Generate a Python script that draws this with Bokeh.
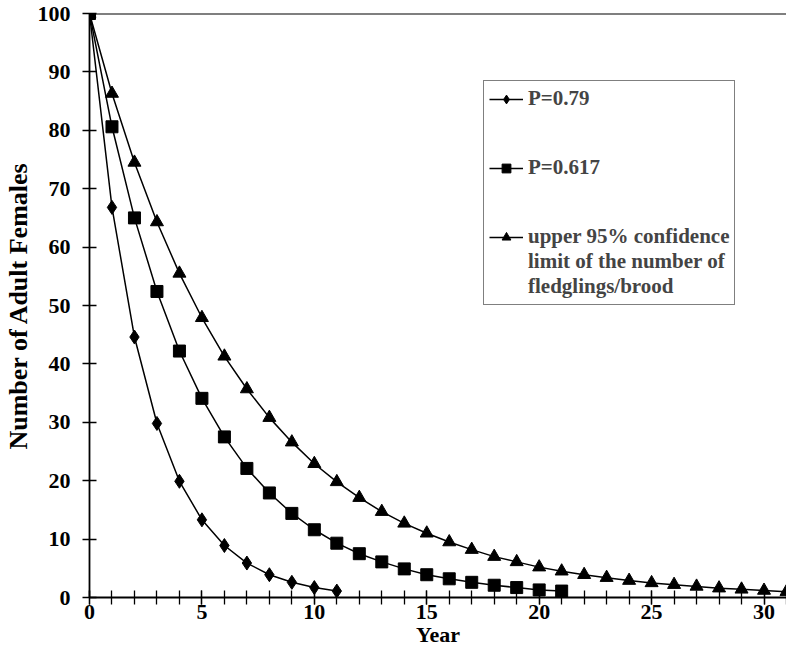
from bokeh.plotting import figure
from bokeh.models import Legend, LegendItem, SingleIntervalTicker, Span, Range1d
from bokeh.embed import file_html
from bokeh.resources import INLINE

years_a = list(range(0, 12))
vals_a = [100, 66.8, 44.6, 29.8, 19.9, 13.3, 8.9, 5.9, 3.9, 2.6, 1.7, 1.1]

years_b = list(range(0, 22))
vals_b = [100, 80.6, 65.0, 52.4, 42.2, 34.1, 27.5, 22.1, 17.9, 14.4, 11.6, 9.3,
          7.5, 6.1, 4.9, 3.9, 3.2, 2.6, 2.1, 1.7, 1.3, 1.1]

years_c = list(range(0, 32))
vals_c = [100, 86.3, 74.5, 64.3, 55.5, 47.9, 41.3, 35.7, 30.8, 26.6, 22.9, 19.8,
          17.1, 14.7, 12.7, 11.0, 9.5, 8.2, 7.0, 6.1, 5.2, 4.5, 3.9, 3.4,
          2.9, 2.5, 2.2, 1.9, 1.6, 1.4, 1.2, 1.0]

label_a = "P=0.79"
label_b = "P=0.617"
label_c = ["upper 95% confidence", "limit of the number of", "fledglings/brood"]

FONT = "Liberation Serif"

p = figure(width=786, height=656, output_backend="svg", toolbar_location=None,
           x_range=Range1d(0, 31), y_range=Range1d(0, 100),
           min_border_left=88, min_border_top=13, min_border_right=0,
           min_border_bottom=59)
p.outline_line_color = None
p.xgrid.visible = False
p.ygrid.visible = False

p.xaxis.ticker = SingleIntervalTicker(interval=5, num_minor_ticks=5)
p.yaxis.ticker = SingleIntervalTicker(interval=10, num_minor_ticks=0)
for ax in (p.xaxis, p.yaxis):
    ax.axis_line_width = 1.8
    ax.axis_line_color = "black"
    ax.major_tick_line_color = "black"
    ax.major_tick_line_width = 1.3
    ax.minor_tick_line_color = "black"
    ax.minor_tick_line_width = 1.3
    ax.major_tick_in = 7
    ax.major_tick_out = 7
    ax.minor_tick_in = 7
    ax.minor_tick_out = 7
    ax.major_label_text_font = FONT
    ax.major_label_text_font_style = "bold"
    ax.major_label_text_font_size = "22px"
    ax.major_label_text_color = "black"
    ax.axis_label_text_font = FONT
    ax.axis_label_text_font_style = "bold"
    ax.axis_label_text_color = "black"

p.xaxis.axis_label = "Year"
p.xaxis.axis_label_text_font_size = "22px"
p.yaxis.axis_label = "Number of Adult Females"
p.yaxis.axis_label_text_font_size = "26px"
p.yaxis.major_label_standoff = 12
p.yaxis.axis_label_standoff = 2
p.xaxis.major_label_standoff = 0
p.xaxis.axis_label_standoff = 0

p.add_layout(Span(location=100, dimension="width", line_color="black", line_width=1.8))

la = p.line(years_a, vals_a, line_color="black", line_width=1.5)
sa = p.scatter(years_a, vals_a, marker="diamond", size=14, color="black")
lb = p.line(years_b, vals_b, line_color="black", line_width=1.5)
sb = p.scatter(years_b, vals_b, marker="square", size=12, color="black")
lc = p.line(years_c, vals_c, line_color="black", line_width=1.5)
sc = p.scatter(years_c, vals_c, marker="triangle", size=13, color="black")

items = [
    LegendItem(label=label_a, renderers=[la, sa]),
    LegendItem(label=" ", renderers=[]),
    LegendItem(label="  ", renderers=[]),
    LegendItem(label=label_b, renderers=[lb, sb]),
    LegendItem(label="   ", renderers=[]),
    LegendItem(label="    ", renderers=[]),
    LegendItem(label=label_c[0], renderers=[lc, sc]),
    LegendItem(label=label_c[1], renderers=[]),
    LegendItem(label=label_c[2], renderers=[]),
]
legend = Legend(items=items, location=(394, 292))
legend.label_text_font = FONT
legend.label_text_font_style = "bold"
legend.label_text_font_size = "21px"
legend.label_height = 22
legend.glyph_height = 22
legend.glyph_width = 34
legend.label_standoff = 5
legend.spacing = 0
legend.padding = 5
legend.margin = 0
legend.border_line_color = "black"
legend.border_line_width = 1.5
legend.background_fill_alpha = 1.0
p.add_layout(legend, "center")

open("out.html", "w").write(file_html(p, INLINE))
